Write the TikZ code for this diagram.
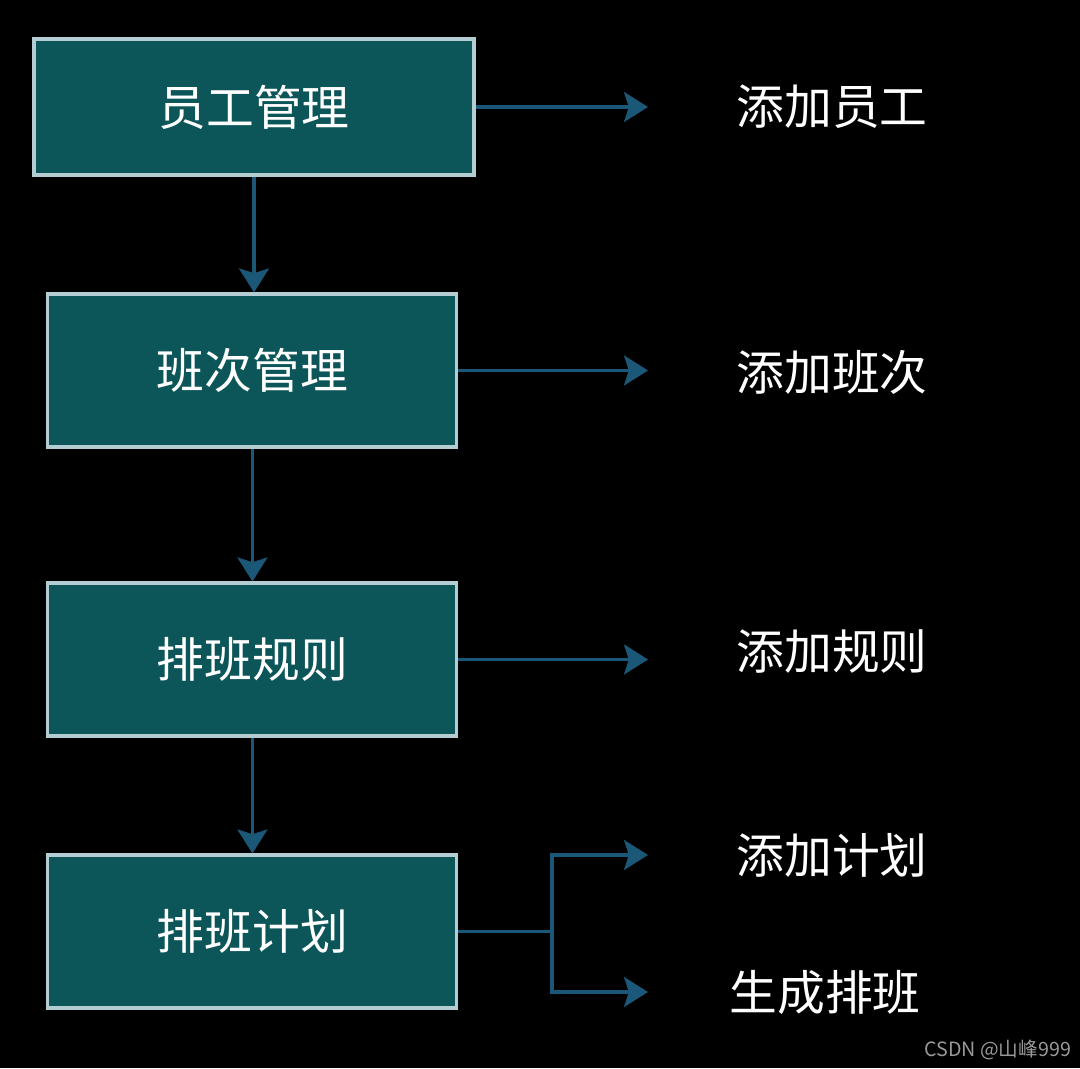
\documentclass[tikz,border=0pt]{standalone}
\usepackage{fontspec}
\setmainfont{Noto Sans CJK SC}
\usepackage{xcolor}
\usetikzlibrary{arrows.meta,positioning,calc}

\definecolor{boxfill}{HTML}{0C5559}
\definecolor{boxedge}{HTML}{B4CDD2}
\definecolor{arrcol}{HTML}{1B5878}

\begin{document}
\begin{tikzpicture}[
    every node/.style={font=\fontsize{34}{40}\selectfont, text=white},
    modbox/.style={
      rectangle, draw=boxedge, line width=2.2pt, fill=boxfill,
      minimum width=10.225cm, minimum height=3.825cm, align=center
    },
    actlabel/.style={align=center},
    flowarr/.style={-{Stealth[length=0.6cm, width=0.75cm, inset=0.12cm]}, line width=2.2pt, arrcol}
  ]
    % background and bounds
    \fill[black] (0,0) rectangle (27,26.7);
    \useasboundingbox (0,0) rectangle (27,26.7);

    % module boxes
    \node[modbox, minimum width=11cm, minimum height=3.4cm] (emp) at (6.35,24.025) {员工管理};
    \node[modbox] (shift) at (6.31,17.438) {班次管理};
    \node[modbox] (rule) at (6.31,10.2125) {排班规则};
    \node[modbox] (plan) at (6.31,3.4125) {排班计划};

    % action labels
    \node[actlabel] (addemp) at (20.8,24.025) {添加员工};
    \node[actlabel] (addshift) at (20.8,17.4) {添加班次};
    \node[actlabel] (addrule) at (20.8,10.4) {添加规则};
    \node[actlabel] (addplan) at (20.8,5.325) {添加计划};
    \node[actlabel] (gen) at (20.625,1.9) {生成排班};

    % arrow tips and branch point
    \coordinate (tip) at (16.2,0);
    \coordinate (fork) at (13.8,0);

    % vertical flow
    \draw[flowarr] (emp.south) -- (emp.south |- shift.north);
    \draw[flowarr] (shift) -- (rule);
    \draw[flowarr] (rule) -- (plan);

    % actions
    \draw[flowarr] (emp.east) -- (emp.east -| tip);
    \draw[flowarr] (shift.east) -- (shift.east -| tip);
    \draw[flowarr] (rule.east) -- (rule.east -| tip);
    \draw[line width=2.2pt, arrcol] (plan.east) -- (plan.east -| fork);
    \draw[flowarr] (fork |- plan.east) |- (tip |- addplan);
    \draw[flowarr] (fork |- plan.east) |- (tip |- gen);

    % watermark
    \node[font=\fontsize{14}{16}\selectfont, text=gray!80, anchor=east] (mark) at (26.9,0.45) {CSDN @山峰999};
  \end{tikzpicture}
\end{document}
